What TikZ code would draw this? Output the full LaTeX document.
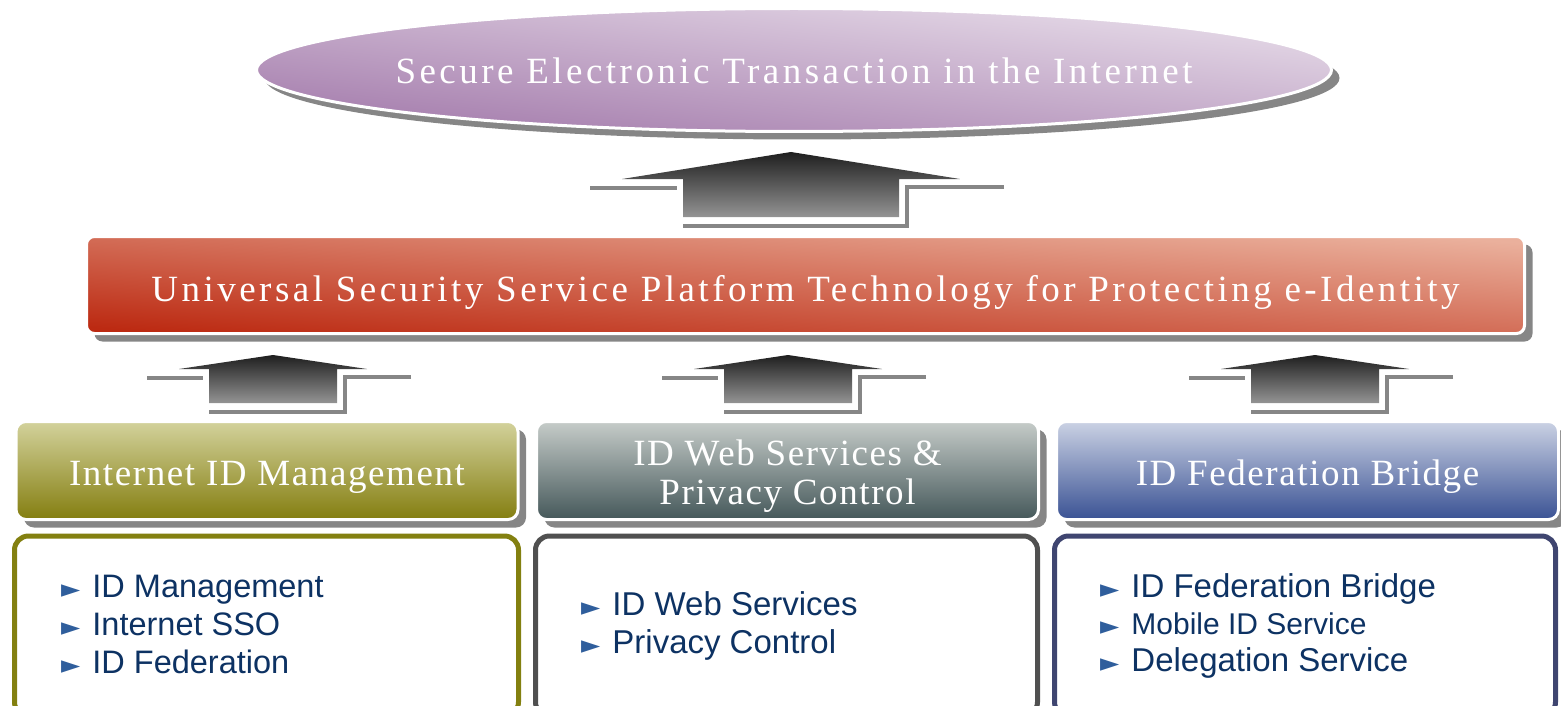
\documentclass[tikz,border=0pt]{standalone}
\usepackage{fontspec}
\setmainfont{Liberation Serif}
\newfontfamily\headfont[LetterSpace=4.3]{Liberation Serif}
\newfontfamily\widefont[LetterSpace=9.4]{Liberation Serif}
\newfontfamily\listfont{Liberation Sans}
\newfontfamily\bulletfont{DejaVu Sans}
\usepackage{tikz}
\usetikzlibrary{shapes.geometric,shadows}
\usetikzlibrary{positioning}

\definecolor{goaldark}{HTML}{A37AAB}
\definecolor{goalmid}{HTML}{C3A6C7}
\definecolor{goallight}{HTML}{E8DEEA}
\definecolor{platdark}{HTML}{BC2A12}
\definecolor{platmid}{HTML}{D57F6E}
\definecolor{platlight}{HTML}{EAB09C}
\definecolor{olivedark}{HTML}{847E10}
\definecolor{olivemid}{HTML}{B1AC6E}
\definecolor{olivelight}{HTML}{D3D29C}
\definecolor{slatedark}{HTML}{45585A}
\definecolor{slatemid}{HTML}{8E9997}
\definecolor{slatelight}{HTML}{C6CCC9}
\definecolor{bluedark}{HTML}{3A5294}
\definecolor{bluemid}{HTML}{8593BC}
\definecolor{bluelight}{HTML}{CBD2E4}
\definecolor{oliveline}{HTML}{838010}
\definecolor{slateline}{HTML}{505050}
\definecolor{blueline}{HTML}{3F4570}
\definecolor{itemtext}{HTML}{0D3263}
\definecolor{itembullet}{HTML}{2F5E9C}
\definecolor{shadowgray}{HTML}{868686}

\tikzset{
	headtext/.style={text=white, font=\headfont\fontsize{37}{39}\selectfont, align=center},
	flatshadow/.style={drop shadow={shadow xshift=8pt, shadow yshift=-8pt, fill=shadowgray, opacity=1}}
}

% block arrow: centre x, tip y, wing y, bottom y, wing half width, body half width
\newcommand{\liftarrow}[6]{
	\draw[shadowgray, line width=4pt] ({#1-#5-32},{#3+9}) -- ({#1-#6-6},{#3+9});
	\draw[shadowgray, line width=4pt] ({#1+#5+44},{#3+8}) -- ({#1+#6+8},{#3+8})
		-- ({#1+#6+8},{#4+9}) -- ({#1-#6},{#4+9});
	\shade[top color=black!88, bottom color=black!42]
		(#1,#2) -- ({#1+#5},#3) -- ({#1+#6},#3) -- ({#1+#6},#4)
		-- ({#1-#6},#4) -- ({#1-#6},#3) -- ({#1-#5},#3) -- cycle;
}

\newcommand{\bul}{{\bulletfont\fontsize{25}{25}\selectfont\textcolor{itembullet}{►}}\hspace{12pt}}

\begin{document}
\begin{tikzpicture}[x=1pt,y=-1pt]
\useasboundingbox (0,0) rectangle (1561,706);
\tikzstyle{headbox}=[rectangle, rounded corners=10pt, draw=white, line width=3pt, flatshadow, headtext,
	minimum width=502pt, minimum height=98pt, inner sep=0pt, shading angle=-11]
\tikzstyle{listbox}=[rectangle, rounded corners=14pt, fill=white, line width=5pt,
	minimum height=180pt, inner sep=0pt]
\tikzstyle{listtext}=[anchor=west, align=left, text=itemtext, inner sep=0pt,
	font=\listfont\fontsize{32.5}{38}\selectfont]

% top goal
\node (goal) at (794,70) [ellipse, draw=white, line width=3pt, flatshadow, headtext, font=\widefont\fontsize{37}{37}\selectfont,
	minimum width=1075pt, minimum height=123pt, inner xsep=-60pt, inner ysep=0pt, text height=27pt, text depth=0pt,
	top color=goallight, middle color=goalmid, bottom color=goaldark, shading angle=-6.5]
	{Secure Electronic Transaction in the Internet};

\liftarrow{791}{152}{179}{217}{169}{108}

% platform banner
\node (platform) at (805.5,285) [headbox, rounded corners=8pt, minimum width=1438pt, minimum height=97pt,
	font=\widefont\fontsize{37}{37}\selectfont, text height=36pt, text depth=4pt,
	top color=platlight, middle color=platmid, bottom color=platdark, shading angle=-3.9]
	{Universal Security Service Platform Technology for Protecting e-Identity};

\liftarrow{273}{355}{369}{403}{94}{64}
\liftarrow{788}{355}{369}{403}{94}{64}
\liftarrow{1315}{355}{369}{403}{94}{64}

% three technology areas
\node (idm) at (267,470.5) [headbox, text height=34pt, text depth=5pt,
	top color=olivelight, middle color=olivemid, bottom color=olivedark]
	{Internet ID Management};
\node (wsp) at (787.5,470.5) [headbox, text height=75pt, text depth=8pt,
	top color=slatelight, middle color=slatemid, bottom color=slatedark]
	{ID Web Services \&\\Privacy Control};
\node (fed) at (1307.5,470.5) [headbox, text height=34pt, text depth=5pt,
	top color=bluelight, middle color=bluemid, bottom color=bluedark]
	{ID Federation Bridge};

\node (idmbox) at (266.5,626) [listbox, draw=oliveline, minimum width=504pt] {};
\node (wspbox) at (786.5,626) [listbox, draw=slateline, minimum width=502pt] {};
\node (fedbox) at (1305,626) [listbox, draw=blueline, minimum width=501pt] {};

\node (idmlist) at (61,624) [listtext]
	{\bul ID Management\\\bul Internet SSO\\\bul ID Federation};
\node (wsplist) at (581,626) [listtext, font=\listfont\fontsize{33}{38}\selectfont]
	{\bul ID Web Services\\\bul Privacy Control};
\node (fedlist) at (1100,626) [listtext, font=\listfont\fontsize{33}{37}\selectfont]
	{\bul ID Federation Bridge\\\bul {\fontsize{30}{37}\selectfont Mobile ID Service}\\\bul Delegation Service};
\end{tikzpicture}
\end{document}
